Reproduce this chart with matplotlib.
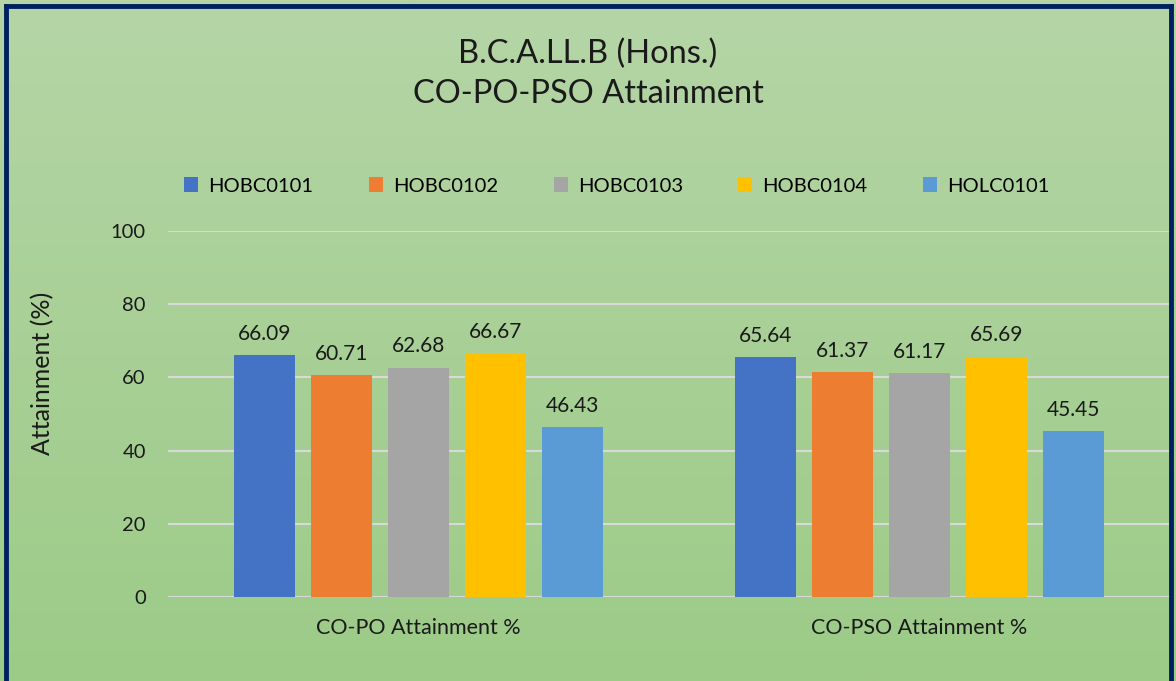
import numpy as np
import matplotlib.pyplot as plt
from matplotlib.lines import Line2D

# --- data ---
categories = ['CO-PO Attainment %', 'CO-PSO Attainment %']
series = ['HOBC0101', 'HOBC0102', 'HOBC0103', 'HOBC0104', 'HOLC0101']
values = [
    [66.09, 65.64],
    [60.71, 61.37],
    [62.68, 61.17],
    [66.67, 65.69],
    [46.43, 45.45],
]
colors = ['#4472C4', '#ED7D31', '#A5A5A5', '#FFC000', '#5B9BD5']
title = 'B.C.A.LL.B (Hons.)\nCO-PO-PSO Attainment'

plt.rcParams['font.family'] = ['Lato', 'DejaVu Sans']

W, H = 1176, 681
fig = plt.figure(figsize=(W / 100, H / 100), dpi=100)

# --- gradient background ---
bg = fig.add_axes([0, 0, 1, 1], zorder=-10)
grad = np.linspace(0, 1, 256).reshape(-1, 1)
top = np.array([0xB5, 0xD5, 0xA6]) / 255
bot = np.array([0x9C, 0xCB, 0x87]) / 255
img = top[None, None, :] * (1 - grad[:, :, None]) + bot[None, None, :] * grad[:, :, None]
bg.imshow(img, aspect='auto', extent=[0, 1, 0, 1])
bg.set_axis_off()

# border (left, top, right; bottom is cut off)
bc = '#002060'
for xs, ys in [([6 / W, 6 / W], [0, 1 - 6 / H]),
               ([6 / W, 1171 / W], [1 - 6 / H, 1 - 6 / H]),
               ([1171 / W, 1171 / W], [0, 1 - 6 / H])]:
    fig.add_artist(Line2D(xs, ys, color=bc, lw=3.5, transform=fig.transFigure))

# --- main axes ---
x0, x1 = 168, 1170
y0, y1 = 597, 231
ax = fig.add_axes([x0 / W, (H - y0) / H, (x1 - x0) / W, (y0 - y1) / H])
ax.patch.set_alpha(0)

x = np.arange(len(categories))
step = 0.154
width = 0.122
for i, (name, vals, c) in enumerate(zip(series, values, colors)):
    pos = x + (i - 2) * step
    bars = ax.bar(pos, vals, width, color=c, label=name, zorder=3)
    for b, v in zip(bars, vals):
        ax.annotate(f'{v:.2f}', (b.get_x() + b.get_width() / 2, v),
                    xytext=(0, 8), textcoords='offset points',
                    ha='center', va='bottom', fontsize=15, color='#1a1a1a')

ax.set_xlim(-0.5, 1.5)
ax.set_ylim(0, 100)
ax.set_yticks(range(0, 101, 20))
ax.yaxis.grid(True, color='#D9D9D9', lw=1.5, zorder=0)
ax.axhline(0, color='#D9D9D9', lw=1.5, zorder=1)
for s in ax.spines.values():
    s.set_visible(False)
ax.tick_params(axis='both', length=0, labelsize=14.5, colors='#1a1a1a')
ax.tick_params(axis='y', pad=16)
ax.set_xticks(x)
ax.set_xticklabels(categories, fontsize=15.5)
ax.tick_params(axis='x', pad=15)
ax.set_ylabel('Attainment (%)', fontsize=18, color='#1a1a1a')
ax.yaxis.set_label_coords((54 - x0) / (x1 - x0), (y0 - 373) / (y0 - y1))

ax.legend(loc='center', bbox_to_anchor=(0.448, (H - 186 - (H - y0)) / (y0 - y1)),
          ncol=5, frameon=False, fontsize=14.5, handlelength=0.7, handleheight=0.7,
          handletextpad=0.5, columnspacing=2.75)

fig.text(0.5, (H - 74) / H, title, ha='center', va='center', fontsize=23.5,
         color='#1a1a1a', linespacing=1.4)

fig.savefig('out.png', dpi=100)
